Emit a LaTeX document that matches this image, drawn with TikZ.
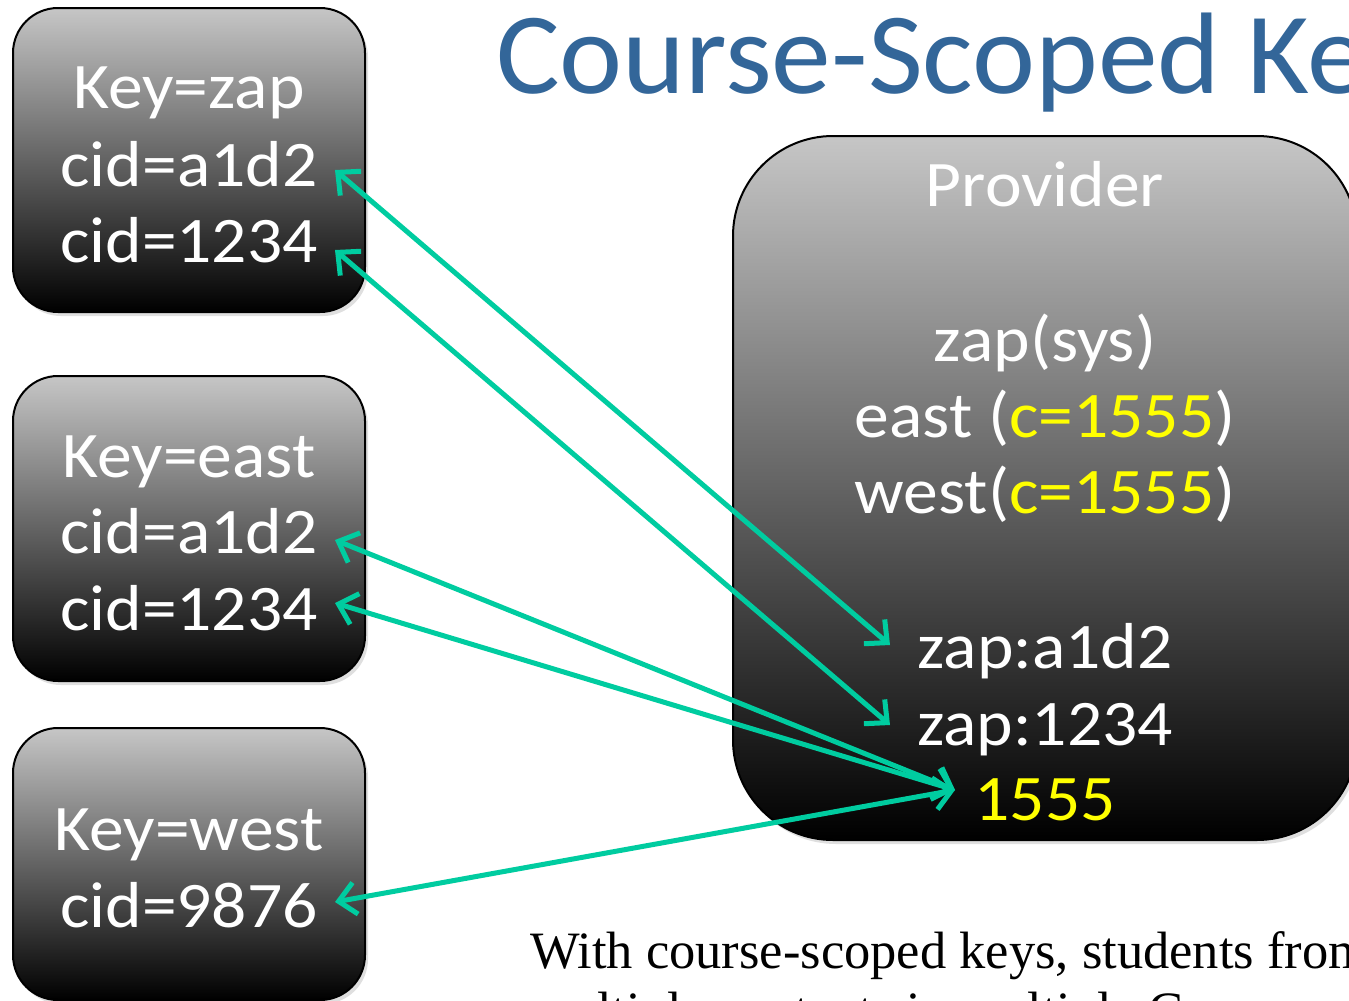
\documentclass[tikz,border=0pt]{standalone}
\usepackage{fontspec}
\setmainfont{Liberation Serif}
\newfontfamily\boxfont[FakeStretch=1.07]{Carlito}
\newfontfamily\titlefont[FakeStretch=1.03]{Carlito}
\usetikzlibrary{arrows.meta,shadows}
\definecolor{linkc}{RGB}{0,204,160}
\definecolor{titleblue}{RGB}{51,102,153}
\definecolor{ylw}{RGB}{255,255,0}
\definecolor{boxtop}{RGB}{198,198,198}
\begin{document}
\begin{tikzpicture}[x=1pt,y=-1pt,
  keybox/.style={draw=black, line width=2pt, rounded corners=45pt,
    top color=boxtop, bottom color=black, minimum width=352pt,
    drop shadow={opacity=0.25,shadow xshift=3pt,shadow yshift=-4pt}},
  provbox/.style={draw=black, line width=2pt, rounded corners=100pt,
    top color=boxtop, bottom color=black, minimum width=624pt, minimum height=704pt,
    drop shadow={opacity=0.25,shadow xshift=3pt,shadow yshift=-4pt}},
  ktext/.style={text=white, inner sep=0pt, anchor=base,
    font=\boxfont\fontsize{65}{70}\selectfont},
  conn/.style={draw=linkc, line width=5pt,
    {Straight Barb[length=17pt,width=32pt]}-{Straight Barb[length=17pt,width=32pt]}},
]
\clip (0,0) rectangle (1349,1001);
\fill[white] (0,0) rectangle (1349,1001);

% title
\node[text=titleblue, inner sep=0pt, anchor=base west,
  font=\titlefont\fontsize{116}{120}\selectfont] (title) at (496,93) {Course-Scoped Keys};

% key boxes
\node[keybox, minimum height=304pt] (b1) at (189,160) {};
\node[keybox, minimum height=305pt] (b2) at (189,528.5) {};
\node[keybox, minimum height=272pt] (b3) at (189,864) {};

\node[ktext] (b1k) at (189,108) {Key=zap};
\node[ktext] (b1a) at (189,186) {cid=a1d2};
\node[ktext] (b1b) at (189,262) {cid=1234};

\node[ktext] (b2k) at (189,477) {Key=east};
\node[ktext] (b2a) at (189,553) {cid=a1d2};
\node[ktext] (b2b) at (189,630) {cid=1234};

\node[ktext] (b3k) at (189,850) {Key=west};
\node[ktext] (b3a) at (189,927) {cid=9876};

% provider
\node[provbox] (prov) at (1045,488) {};
\node[ktext] (pt) at (1045,206) {Provider};
\node[ktext] (p1) at (1045,361) {zap(sys)};
\node[ktext] (p2) at (1045,437) {east (\textcolor{ylw}{c=1555})};
\node[ktext] (p3) at (1045,513) {west(\textcolor{ylw}{c=1555})};
\node[ktext] (p4) at (1045,668) {zap:a1d2};
\node[ktext] (p5) at (1045,745) {zap:1234};
\node[ktext, text=ylw] (p6) at (1045,820) {1555};

% bottom text
\node[inner sep=0pt, anchor=base west, font=\fontsize{52.5}{62}\selectfont] (cap1) at (530,968)
  {With course-scoped keys, students from};
\node[inner sep=0pt, anchor=base west, font=\fontsize{52.5}{62}\selectfont] (cap2) at (530,1028)
  {multiple contexts in multiple Courses};

% connector ends
\coordinate (a1) at (335,170);
\coordinate (a2) at (335,250);
\coordinate (a3) at (335,540);
\coordinate (a4) at (335,603);
\coordinate (a5) at (335,902);
\coordinate (z1) at (890,645);
\coordinate (z2) at (890,725);
\coordinate (z3) at (955,790);

\draw[conn] (a1) -- (z1);
\draw[conn] (a2) -- (z2);
\draw[conn] (a3) -- (z3);
\draw[conn] (a4) -- (z3);
\draw[conn] (a5) -- (z3);
\end{tikzpicture}
\end{document}
